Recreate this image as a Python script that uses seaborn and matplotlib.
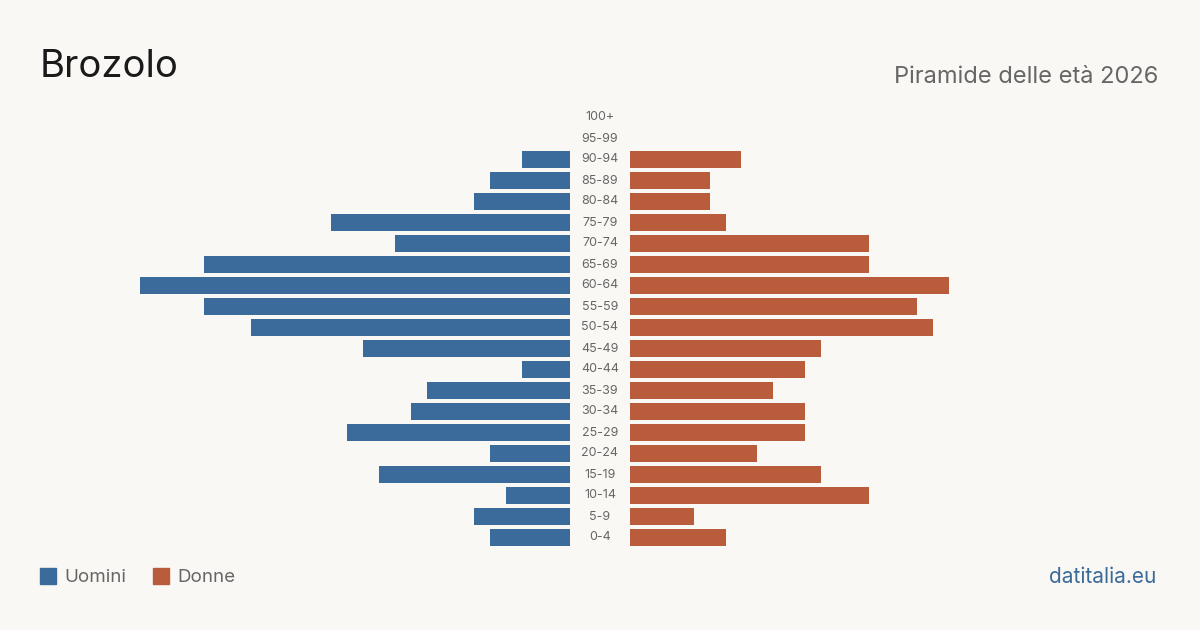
import pandas as pd
import seaborn as sns
import matplotlib.pyplot as plt
from matplotlib.patches import Rectangle
from matplotlib.transforms import blended_transform_factory

ages = ["100+", "95-99", "90-94", "85-89", "80-84", "75-79", "70-74", "65-69",
        "60-64", "55-59", "50-54", "45-49", "40-44", "35-39", "30-34", "25-29",
        "20-24", "15-19", "10-14", "5-9", "0-4"]
uomini = [0, 0, 3, 5, 6, 15, 11, 23, 27, 23, 20, 13, 3, 9, 10, 14, 5, 12, 4, 6, 5]
donne = [0, 0, 7, 5, 5, 6, 15, 15, 20, 18, 19, 12, 11, 9, 11, 11, 8, 12, 15, 4, 6]

BG = "#f9f8f4"
BLUE = "#3b6b9b"
ORANGE = "#b95c3b"
GREY = "#666666"

sns.set_style("white")
plt.rcParams["font.family"] = ["Inter", "DejaVu Sans"]

df = pd.DataFrame({"age": ages, "uomini": uomini, "donne": donne})

W, H = 1200, 630
fig = plt.figure(figsize=(12, 6.3), dpi=100, facecolor=BG)

def box(x0, x1, ytop, ybot):
    return [x0 / W, (H - ybot) / H, (x1 - x0) / W, (ybot - ytop) / H]

xmax = 27
ax_l = fig.add_axes(box(140, 570, 107, 548))
ax_r = fig.add_axes(box(630, 1060, 107, 548))

sns.barplot(data=df, x="uomini", y="age", orient="h", color=BLUE, width=0.8,
            saturation=1, linewidth=0, ax=ax_l)
sns.barplot(data=df, x="donne", y="age", orient="h", color=ORANGE, width=0.8,
            saturation=1, linewidth=0, ax=ax_r)

ax_l.set_xlim(xmax, 0)
ax_r.set_xlim(0, xmax)
for ax in (ax_l, ax_r):
    ax.set_ylim(len(ages) - 0.5, -0.5)
    ax.set_facecolor("none")
    ax.axis("off")

tr = blended_transform_factory(fig.transFigure, ax_l.transData)
for i, lab in enumerate(ages):
    ax_l.text(600 / W, i, lab, transform=tr, ha="center", va="center",
              fontsize=9, color=GREY)

fig.text(40 / W, 1 - 67 / H, "Brozolo", fontsize=27.5, color="#1a1a1a",
         ha="left", va="center")
fig.text(1158 / W, 1 - 77 / H, "Piramide delle età 2026", fontsize=17,
         color=GREY, ha="right", va="center")

# legend
for x0, col, lab in [(40, BLUE, "Uomini"), (153, ORANGE, "Donne")]:
    fig.patches.append(Rectangle((x0 / W, 1 - 584 / H), 16 / W, 16 / H,
                                 transform=fig.transFigure, color=col))
    fig.text((x0 + 24) / W, 1 - 577 / H, lab, fontsize=13.5, color=GREY,
             ha="left", va="center")

fig.text(1156 / W, 1 - 577 / H, "datitalia.eu", fontsize=15, color=BLUE,
         ha="right", va="center")

fig.savefig("out.png", dpi=100, facecolor=BG)
